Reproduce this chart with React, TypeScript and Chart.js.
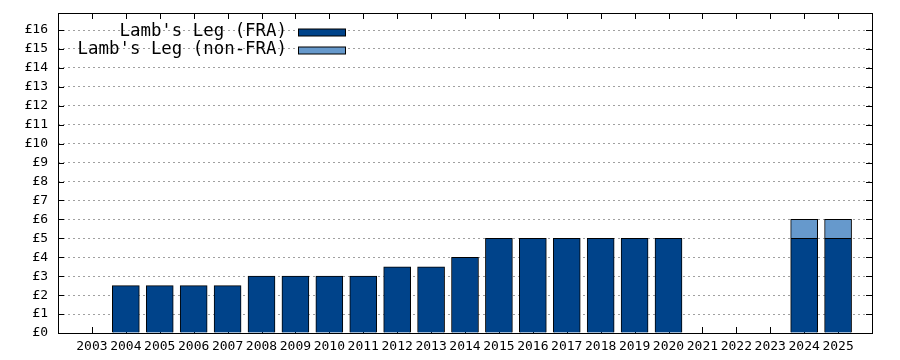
import React, { useEffect, useRef } from "react";
import { Chart, registerables } from "chart.js";

Chart.register(...registerables);

const years = ["", "2003", "2004", "2005", "2006", "2007", "2008", "2009", "2010", "2011", "2012", "2013", "2014", "2015", "2016", "2017", "2018", "2019", "2020", "2021", "2022", "2023", "2024", "2025", ""];
const fraValues = [null, null, 2.5, 2.5, 2.5, 2.5, 3, 3, 3, 3, 3.5, 3.5, 4, 5, 5, 5, 5, 5, 5, null, null, null, 5, 5, null];
const nonFraValues = [null, null, null, null, null, null, null, null, null, null, null, null, null, null, null, null, null, null, null, null, null, null, 1, 1, null];
const seriesLabels = ["Lamb's Leg (FRA)", "Lamb's Leg (non-FRA)"];
const seriesColors = ["#00438a", "#6699cc"];

const MONO = '"DejaVu Sans Mono", monospace';

const framePlugin = {
  id: "frame",
  beforeDatasetsDraw(chart: any) {
    const { ctx, chartArea: a, scales } = chart;
    ctx.save();
    ctx.strokeStyle = "#000";
    ctx.lineWidth = 1;
    ctx.beginPath();
    const yTicks = scales.y.ticks;
    for (const t of yTicks) {
      const py = Math.round(scales.y.getPixelForValue(t.value)) + 0.5;
      ctx.moveTo(a.left, py); ctx.lineTo(a.left + 6, py);
      ctx.moveTo(a.right, py); ctx.lineTo(a.right - 6, py);
    }
    for (let i = 0; i < years.length; i++) {
      if (!years[i]) continue;
      const px = Math.round(scales.x.getPixelForValue(i)) + 0.5;
      ctx.moveTo(px, a.bottom); ctx.lineTo(px, a.bottom - 6);
      ctx.moveTo(px, a.top); ctx.lineTo(px, a.top + 6);
    }
    ctx.stroke();
    ctx.restore();
  },
  afterDraw(chart: any) {
    const { ctx, chartArea: a } = chart;
    ctx.save();
    ctx.strokeStyle = "#000";
    ctx.lineWidth = 1;
    ctx.strokeRect(Math.round(a.left) + 0.5, Math.round(a.top) + 0.5, Math.round(a.right - a.left), Math.round(a.bottom - a.top));
    // legend
    ctx.font = "17.4px " + MONO;
    ctx.textAlign = "right";
    ctx.textBaseline = "middle";
    chart.data.datasets.forEach((ds: any, i: number) => {
      const cy = 31.5 + i * 18;
      ctx.fillStyle = "#000";
      ctx.fillText(ds.label, 287, cy);
      ctx.fillStyle = ds.backgroundColor;
      ctx.fillRect(298.5, cy - 2.5, 47, 7);
      ctx.strokeRect(298.5, cy - 2.5, 47, 7);
    });
    ctx.restore();
  },
};

export default function App() {
  const ref = useRef<HTMLCanvasElement>(null);
  useEffect(() => {
    document.body.style.margin = "0";
    const chart = new Chart(ref.current!, {
      type: "bar",
      data: {
        labels: years,
        datasets: [
          { label: seriesLabels[0], data: fraValues, backgroundColor: seriesColors[0], borderColor: "#000", borderWidth: 1, barThickness: 27 } as any,
          { label: seriesLabels[1], data: nonFraValues, backgroundColor: seriesColors[1], borderColor: "#000", borderWidth: 1, barThickness: 27 } as any,
        ],
      },
      options: {
        animation: false,
        responsive: false,
        maintainAspectRatio: false,
        layout: { padding: { top: 13, right: 28, left: 0, bottom: 0 } },
        plugins: { legend: { display: false }, tooltip: { enabled: false } },
        scales: {
          x: {
            stacked: true,
            offset: false,
            grid: { display: false, drawTicks: false, offset: false },
            border: { display: false },
            ticks: { color: "#000", font: { family: MONO, size: 13 }, padding: 6, maxRotation: 0, autoSkip: false },
            afterFit(s: any) { s.height = 27; s.paddingLeft = 0; s.paddingRight = 0; },
          },
          y: {
            stacked: true,
            min: 0,
            max: 16.9,
            grid: { color: "#a0a0a0", drawTicks: false, lineWidth: 1 },
            border: { display: false, dash: [2, 3] },
            ticks: {
              stepSize: 1,
              includeBounds: false,
              color: "#000",
              font: { family: MONO, size: 13 },
              padding: 10,
              callback: (v: any) => "£" + v,
            },
            afterFit(s: any) { s.width = 58; s.paddingTop = 0; s.paddingBottom = 0; },
          },
        },
      },
      plugins: [framePlugin],
    });
    return () => chart.destroy();
  }, []);
  return (
    <div style={{ width: 900, height: 360 }}>
      <canvas ref={ref} width={900} height={360} style={{ display: "block" }} />
    </div>
  );
}
